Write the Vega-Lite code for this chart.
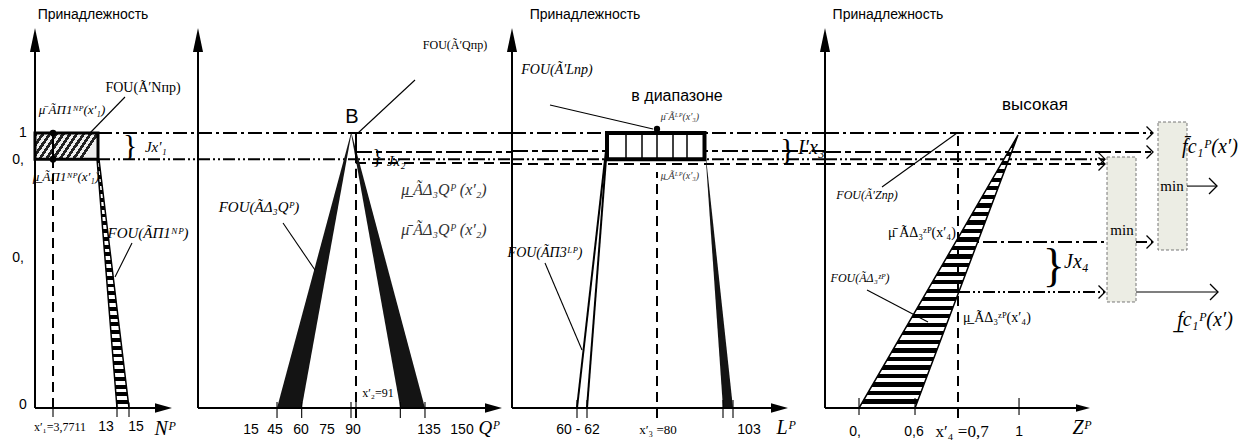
{
"$schema":"https://vega.github.io/schema/vega-lite/v6.json",
"background":"white",
"padding":0,
"spacing":0,
"bounds":"flush",
"config":{"view":{"stroke":null},"concat":{"spacing":0}},
"datasets":{
"p1_axes":[{"x":1.1756,"x2":1.1756,"y":0,"y2":1.3018},{"x":1.1756,"x2":19.2,"y":0,"y2":0},{"x":3.7711,"x2":3.7711,"y":0.905,"y2":1}],
"p1_thin":[{"x":3.7711,"x2":3.7711,"y":0,"y2":-0.033},{"x":13,"x2":13,"y":0.02,"y2":-0.033},{"x":14.73,"x2":14.73,"y":0.02,"y2":-0.033},{"x":14.153,"x2":9.106,"y":1.1309,"y2":1.0},{"x":15.163,"x2":12.711,"y":0.6,"y2":0.4764}],
"p1_up":[{"x":1.1756,"y":1.338}],
"p1_right":[{"x":19.705,"y":0}],
"p1_strip":[{"y":0.905,"x":10.12,"x2":10.4},{"y":0,"x":13,"x2":14.73}],
"p1_box":[{"x":1.1756,"x2":10.26,"y":0.905,"y2":1}],
"p1_dd":[{"x":10.26,"x2":24.679,"y":1,"y2":1}],
"p1_ddd":[{"x":10.26,"x2":24.679,"y":0.905,"y2":0.905}],
"p1_ds":[{"x":3.7711,"x2":3.7711,"y":0,"y2":0.905}],
"p1_dots":[{"x":3.7711,"y":1},{"x":3.7711,"y":0.905}],
"p1_sans":[{"x":9.539,"y":1.429,"t":"Принадлежность"},{"x":-0.555,"y":1,"t":"1"},{"x":-1.276,"y":0.902,"t":"0,"},{"x":-1.276,"y":0.5455,"t":"0,"},{"x":-0.555,"y":0.011,"t":"0"},{"x":11.413,"y":-0.069,"t":"13"},{"x":15.74,"y":-0.069,"t":"15"}],
"p1_small":[{"x":4.78,"y":-0.069,"t":"x′₁=3,7711"}],
"p1_serif":[{"x":16.749,"y":1.1636,"t":"FOU(Ã′Nпр)"}],
"p1_mu":[{"x":6.511,"y":1.0836,"t":"μ̄ ÃП1ᴺᴾ(x′₁)"},{"x":5.646,"y":0.84,"t":"μ̲ ÃП1ᴺᴾ(x′₁)"}],
"p1_it":[{"x":17.47,"y":0.636,"t":"FOU(ÃП1ᴺᴾ)"},{"x":18.6,"y":0.949,"t":"Jx′₁"}],
"p1_big":[{"x":19.92,"y":-0.075,"t":"Nᴾ"}],
"p1_brace":[{"x":14.9,"y":0.9527,"t":"}"}],

"p2_axes":[{"x":-3.066,"x2":-3.066,"y":0,"y2":1.3018},{"x":-3.066,"x2":174.55,"y":0,"y2":0},{"x":93.04,"x2":93.04,"y":0.89,"y2":1}],
"p2_thin":[{"x":45,"x2":45,"y":0.0218,"y2":-0.036},{"x":60,"x2":60,"y":0.0218,"y2":-0.036},{"x":90,"x2":90,"y":0.0218,"y2":-0.036},{"x":93.04,"x2":93.04,"y":0.0218,"y2":-0.036},{"x":120,"x2":120,"y":0.0218,"y2":-0.036},{"x":135,"x2":135,"y":0.0218,"y2":-0.036},{"x":94.26,"x2":128.93,"y":1,"y2":1.1927},{"x":48.64,"x2":68.1,"y":0.6727,"y2":0.5018}],
"p2_up":[{"x":-3.066,"y":1.338}],
"p2_right":[{"x":176.68,"y":0}],
"p2_bands":[{"g":"L","y":0,"x":45,"x2":60},{"g":"L","y":1,"x":90,"x2":90.3},{"g":"R","y":0,"x":120,"x2":135},{"g":"R","y":1,"x":90,"x2":90.3}],
"p2_dd":[{"x":-3.066,"x2":187.93,"y":1,"y2":1}],
"p2_ddd":[{"x":-3.066,"x2":187.93,"y":0.905,"y2":0.905}],
"p2_ld":[{"x":93.04,"x2":187.93,"y":0.931,"y2":0.931}],
"p2_ds":[{"x":93.04,"x2":187.93,"y":0.891,"y2":0.891},{"x":93.04,"x2":93.04,"y":-0.036,"y2":0.87}],
"p2_sans":[{"x":29.17,"y":-0.08,"t":"15"},{"x":43.77,"y":-0.08,"t":"45"},{"x":59.59,"y":-0.08,"t":"60"},{"x":75.4,"y":-0.08,"t":"75"},{"x":91.22,"y":-0.08,"t":"90"},{"x":137.45,"y":-0.08,"t":"135"},{"x":157.52,"y":-0.08,"t":"150"}],
"p2_B":[{"x":90.6,"y":1.058,"t":"B"}],
"p2_small":[{"x":153.26,"y":1.32,"t":"FOU(Ã′Qпр)"},{"x":106.4,"y":0.0545,"t":"x′₂=91"}],
"p2_mu":[{"x":146.57,"y":0.7927,"t":"μ̲ ÃΔ₃Qᴾ (x′₂)"},{"x":146.57,"y":0.647,"t":"μ̄ ÃΔ₃Qᴾ (x′₂)"}],
"p2_it":[{"x":34.04,"y":0.731,"t":"FOU(ÃΔ₃Qᴾ)"},{"x":117.5,"y":0.9,"t":"Jx₂"}],
"p2_big":[{"x":173.94,"y":-0.073,"t":"Qᴾ"}],
"p2_brace":[{"x":106.0,"y":0.9127,"t":"}"}],

"p3_axes":[{"x":43.75,"x2":43.75,"y":0,"y2":1.3018},{"x":43.75,"x2":109.75,"y":0,"y2":0},{"x":60,"x2":67.75,"y":0,"y2":1},{"x":62.5,"x2":67.25,"y":0,"y2":0.905}],
"p3_thin":[{"x":60,"x2":60,"y":0.029,"y2":-0.036},{"x":62.5,"x2":62.5,"y":0.029,"y2":-0.036},{"x":96.5,"x2":96.5,"y":0.029,"y2":-0.036},{"x":99,"x2":99,"y":0.029,"y2":-0.036},{"x":53.25,"x2":79,"y":1.1018,"y2":1.0145},{"x":52,"x2":61.25,"y":0.527,"y2":0.211}],
"p3_up":[{"x":43.75,"y":1.338}],
"p3_right":[{"x":110.625,"y":0}],
"p3_band":[{"y":0,"x":96.5,"x2":99},{"y":0.905,"x":92.2,"x2":92.3}],
"p3_box":[{"x":67.5,"x2":91.875,"y":0.905,"y2":1}],
"p3_grid":[{"x":72.25,"x2":72.25,"y":0.905,"y2":1},{"x":76.25,"x2":76.25,"y":0.905,"y2":1},{"x":80,"x2":80,"y":0.905,"y2":1},{"x":84,"x2":84,"y":0.905,"y2":1},{"x":87.5,"x2":87.5,"y":0.905,"y2":1}],
"p3_dd":[{"x":43.75,"x2":122,"y":1,"y2":1}],
"p3_ld":[{"x":43.75,"x2":122,"y":0.9345,"y2":0.9345}],
"p3_ddd":[{"x":43.75,"x2":122,"y":0.905,"y2":0.905}],
"p3_ds":[{"x":43.75,"x2":122,"y":0.8873,"y2":0.8873},{"x":80,"x2":80,"y":-0.036,"y2":0.858}],
"p3_dot":[{"x":80,"y":1.0145}],
"p3_sans":[{"x":62,"y":1.429,"t":"Принадлежность"},{"x":60.25,"y":-0.08,"t":"60 - 62"},{"x":103,"y":-0.08,"t":"103"}],
"p3_label":[{"x":85,"y":1.1345,"t":"в диапазоне"}],
"p3_small":[{"x":80.25,"y":-0.08,"t":"x′₃ =80"}],
"p3_tiny":[{"x":85.75,"y":1.058,"t":"μ̄ Ãᴸᴾ(x′₃)"},{"x":85.75,"y":0.8436,"t":"μ̲ Ãᴸᴾ(x′₃)"}],
"p3_it":[{"x":55,"y":1.229,"t":"FOU(Ã′Lпр)"},{"x":52,"y":0.5636,"t":"FOU(ÃП3ᴸᴾ)"}],
"p3_big":[{"x":112.25,"y":-0.073,"t":"Lᴾ"},{"x":118.6,"y":0.945,"t":"I′x₃"}],
"p3_brace":[{"x":112.6,"y":0.938,"t":"}"}],

"p4_axes":[{"x":0.2725,"x2":0.2725,"y":0,"y2":1.3018},{"x":0.2725,"x2":1.2287,"y":0,"y2":0}],
"p4_thin":[{"x":0.4,"x2":0.4,"y":0.036,"y2":-0.025},{"x":0.61,"x2":0.61,"y":0.036,"y2":-0.025},{"x":1,"x2":1,"y":0.036,"y2":-0.025},{"x":0.4862,"x2":0.7675,"y":0.8036,"y2":1.0},{"x":0.43,"x2":0.6587,"y":0.429,"y2":0.3127},{"x":1.6298,"x2":1.7424,"y":0.807,"y2":0.807},{"x":1.4386,"x2":1.7461,"y":0.4218,"y2":0.4218}],
"p4_up":[{"x":0.2725,"y":1.338}],
"p4_right":[{"x":1.2399,"y":0}],
"p4_tri":[{"y":0,"x":0.4,"x2":0.61},{"y":0.9927,"x":0.9962,"x2":0.9962}],
"p4_dd":[{"x":0.2725,"x2":1.5024,"y":1,"y2":1},{"x":0.7712,"x2":1.5024,"y":0.6036,"y2":0.6036}],
"p4_ld":[{"x":0.2725,"x2":1.5024,"y":0.931,"y2":0.931}],
"p4_ddd":[{"x":0.2725,"x2":1.3224,"y":0.905,"y2":0.905},{"x":0.7712,"x2":1.3224,"y":0.4218,"y2":0.4218}],
"p4_ds":[{"x":0.2725,"x2":1.3224,"y":0.887,"y2":0.887},{"x":0.7712,"x2":0.7712,"y":-0.036,"y2":0.9927}],
"p4_chev":[{"x":1.5024,"y":1},{"x":1.5024,"y":0.931},{"x":1.3224,"y":0.905},{"x":1.3224,"y":0.887},{"x":1.5024,"y":0.6036},{"x":1.3224,"y":0.4218}],
"p4_chev2":[{"x":1.7424,"y":0.807},{"x":1.7461,"y":0.4218}],
"p4_boxes":[{"x":1.5211,"x2":1.6298,"y":0.5745,"y2":1.04},{"x":1.3299,"x2":1.4386,"y":0.3855,"y2":0.9127}],
"p4_sans":[{"x":0.5087,"y":1.429,"t":"Принадлежность"},{"x":0.385,"y":-0.087,"t":"0,"},{"x":0.6062,"y":-0.087,"t":"0,6"},{"x":1,"y":-0.087,"t":"1"}],
"p4_label":[{"x":1.06,"y":1.1018,"t":"высокая"}],
"p4_x":[{"x":0.7862,"y":-0.087,"t":"x′₄ =0,7"}],
"p4_min":[{"x":1.5736,"y":0.807,"t":"min"},{"x":1.3861,"y":0.647,"t":"min"}],
"p4_mu":[{"x":0.6362,"y":0.636,"t":"μ̄ ÃΔ₃ᶻᴾ(x′₄)"},{"x":0.9174,"y":0.327,"t":"μ̲ ÃΔ₃ᶻᴾ(x′₄)"}],
"p4_it":[{"x":0.43,"y":0.7745,"t":"FOU(Ã′Zпр)"},{"x":0.4037,"y":0.4727,"t":"FOU(ÃΔ₃ᶻᴾ)"}],
"p4_big":[{"x":1.236,"y":-0.073,"t":"Zᴾ"},{"x":1.215,"y":0.531,"t":"Jx₄"},{"x":1.716,"y":0.949,"t":"f̄c₁ᴾ(x′)"},{"x":1.6974,"y":0.32,"t":"f̲c₁ᴾ(x′)"}],
"p4_brace":[{"x":1.13,"y":0.5127,"t":"}"}]
},
"hconcat":[
{"width":198,"height":446,
"encoding":{"x":{"field":"x","type":"quantitative","scale":{"domain":[-3.8713,24.679],"nice":false,"zero":false},"axis":null},"y":{"field":"y","type":"quantitative","scale":{"domain":[-0.13818,1.48364],"nice":false,"zero":false},"axis":null}},
"layer":[
{"data":{"name":"p1_dd"},"mark":{"type":"rule","color":"black","strokeWidth":2,"strokeDash":[14,4,3,4]},"encoding":{"x2":{"field":"x2"},"y2":{"field":"y2"}}},
{"data":{"name":"p1_ddd"},"mark":{"type":"rule","color":"black","strokeWidth":2,"strokeDash":[12,3,2,3,2,3]},"encoding":{"x2":{"field":"x2"},"y2":{"field":"y2"}}},
{"data":{"name":"p1_strip"},"mark":{"type":"area","orient":"horizontal","stroke":"black","strokeWidth":1.5,"fill":{"gradient":"linear","x1":0,"y1":0,"x2":0,"y2":1,"stops":[{"offset":0,"color":"#000"},{"offset":0.015625,"color":"#000"},{"offset":0.015625,"color":"#fff"},{"offset":0.03125,"color":"#fff"},{"offset":0.03125,"color":"#000"},{"offset":0.046875,"color":"#000"},{"offset":0.046875,"color":"#fff"},{"offset":0.0625,"color":"#fff"},{"offset":0.0625,"color":"#000"},{"offset":0.078125,"color":"#000"},{"offset":0.078125,"color":"#fff"},{"offset":0.09375,"color":"#fff"},{"offset":0.09375,"color":"#000"},{"offset":0.109375,"color":"#000"},{"offset":0.109375,"color":"#fff"},{"offset":0.125,"color":"#fff"},{"offset":0.125,"color":"#000"},{"offset":0.140625,"color":"#000"},{"offset":0.140625,"color":"#fff"},{"offset":0.15625,"color":"#fff"},{"offset":0.15625,"color":"#000"},{"offset":0.171875,"color":"#000"},{"offset":0.171875,"color":"#fff"},{"offset":0.1875,"color":"#fff"},{"offset":0.1875,"color":"#000"},{"offset":0.203125,"color":"#000"},{"offset":0.203125,"color":"#fff"},{"offset":0.21875,"color":"#fff"},{"offset":0.21875,"color":"#000"},{"offset":0.234375,"color":"#000"},{"offset":0.234375,"color":"#fff"},{"offset":0.25,"color":"#fff"},{"offset":0.25,"color":"#000"},{"offset":0.265625,"color":"#000"},{"offset":0.265625,"color":"#fff"},{"offset":0.28125,"color":"#fff"},{"offset":0.28125,"color":"#000"},{"offset":0.296875,"color":"#000"},{"offset":0.296875,"color":"#fff"},{"offset":0.3125,"color":"#fff"},{"offset":0.3125,"color":"#000"},{"offset":0.328125,"color":"#000"},{"offset":0.328125,"color":"#fff"},{"offset":0.34375,"color":"#fff"},{"offset":0.34375,"color":"#000"},{"offset":0.359375,"color":"#000"},{"offset":0.359375,"color":"#fff"},{"offset":0.375,"color":"#fff"},{"offset":0.375,"color":"#000"},{"offset":0.390625,"color":"#000"},{"offset":0.390625,"color":"#fff"},{"offset":0.40625,"color":"#fff"},{"offset":0.40625,"color":"#000"},{"offset":0.421875,"color":"#000"},{"offset":0.421875,"color":"#fff"},{"offset":0.4375,"color":"#fff"},{"offset":0.4375,"color":"#000"},{"offset":0.453125,"color":"#000"},{"offset":0.453125,"color":"#fff"},{"offset":0.46875,"color":"#fff"},{"offset":0.46875,"color":"#000"},{"offset":0.484375,"color":"#000"},{"offset":0.484375,"color":"#fff"},{"offset":0.5,"color":"#fff"},{"offset":0.5,"color":"#000"},{"offset":0.515625,"color":"#000"},{"offset":0.515625,"color":"#fff"},{"offset":0.53125,"color":"#fff"},{"offset":0.53125,"color":"#000"},{"offset":0.546875,"color":"#000"},{"offset":0.546875,"color":"#fff"},{"offset":0.5625,"color":"#fff"},{"offset":0.5625,"color":"#000"},{"offset":0.578125,"color":"#000"},{"offset":0.578125,"color":"#fff"},{"offset":0.59375,"color":"#fff"},{"offset":0.59375,"color":"#000"},{"offset":0.609375,"color":"#000"},{"offset":0.609375,"color":"#fff"},{"offset":0.625,"color":"#fff"},{"offset":0.625,"color":"#000"},{"offset":0.640625,"color":"#000"},{"offset":0.640625,"color":"#fff"},{"offset":0.65625,"color":"#fff"},{"offset":0.65625,"color":"#000"},{"offset":0.671875,"color":"#000"},{"offset":0.671875,"color":"#fff"},{"offset":0.6875,"color":"#fff"},{"offset":0.6875,"color":"#000"},{"offset":0.703125,"color":"#000"},{"offset":0.703125,"color":"#fff"},{"offset":0.71875,"color":"#fff"},{"offset":0.71875,"color":"#000"},{"offset":0.734375,"color":"#000"},{"offset":0.734375,"color":"#fff"},{"offset":0.75,"color":"#fff"},{"offset":0.75,"color":"#000"},{"offset":0.765625,"color":"#000"},{"offset":0.765625,"color":"#fff"},{"offset":0.78125,"color":"#fff"},{"offset":0.78125,"color":"#000"},{"offset":0.796875,"color":"#000"},{"offset":0.796875,"color":"#fff"},{"offset":0.8125,"color":"#fff"},{"offset":0.8125,"color":"#000"},{"offset":0.828125,"color":"#000"},{"offset":0.828125,"color":"#fff"},{"offset":0.84375,"color":"#fff"},{"offset":0.84375,"color":"#000"},{"offset":0.859375,"color":"#000"},{"offset":0.859375,"color":"#fff"},{"offset":0.875,"color":"#fff"},{"offset":0.875,"color":"#000"},{"offset":0.890625,"color":"#000"},{"offset":0.890625,"color":"#fff"},{"offset":0.90625,"color":"#fff"},{"offset":0.90625,"color":"#000"},{"offset":0.921875,"color":"#000"},{"offset":0.921875,"color":"#fff"},{"offset":0.9375,"color":"#fff"},{"offset":0.9375,"color":"#000"},{"offset":0.953125,"color":"#000"},{"offset":0.953125,"color":"#fff"},{"offset":0.96875,"color":"#fff"},{"offset":0.96875,"color":"#000"},{"offset":0.984375,"color":"#000"},{"offset":0.984375,"color":"#fff"},{"offset":1,"color":"#fff"}]}},"encoding":{"x2":{"field":"x2"}}},
{"data":{"name":"p1_box"},"mark":{"type":"rect","stroke":"black","strokeWidth":3,"fill":{"gradient":"linear","x1":0,"y1":0,"x2":1,"y2":0.28,"stops":[{"offset":0,"color":"#222"},{"offset":0.05,"color":"#222"},{"offset":0.05,"color":"#eee"},{"offset":0.1,"color":"#eee"},{"offset":0.1,"color":"#222"},{"offset":0.15,"color":"#222"},{"offset":0.15,"color":"#eee"},{"offset":0.2,"color":"#eee"},{"offset":0.2,"color":"#222"},{"offset":0.25,"color":"#222"},{"offset":0.25,"color":"#eee"},{"offset":0.3,"color":"#eee"},{"offset":0.3,"color":"#222"},{"offset":0.35,"color":"#222"},{"offset":0.35,"color":"#eee"},{"offset":0.4,"color":"#eee"},{"offset":0.4,"color":"#222"},{"offset":0.45,"color":"#222"},{"offset":0.45,"color":"#eee"},{"offset":0.5,"color":"#eee"},{"offset":0.5,"color":"#222"},{"offset":0.55,"color":"#222"},{"offset":0.55,"color":"#eee"},{"offset":0.6,"color":"#eee"},{"offset":0.6,"color":"#222"},{"offset":0.65,"color":"#222"},{"offset":0.65,"color":"#eee"},{"offset":0.7,"color":"#eee"},{"offset":0.7,"color":"#222"},{"offset":0.75,"color":"#222"},{"offset":0.75,"color":"#eee"},{"offset":0.8,"color":"#eee"},{"offset":0.8,"color":"#222"},{"offset":0.85,"color":"#222"},{"offset":0.85,"color":"#eee"},{"offset":0.9,"color":"#eee"},{"offset":0.9,"color":"#222"},{"offset":0.95,"color":"#222"},{"offset":0.95,"color":"#eee"},{"offset":1,"color":"#eee"}]}},"encoding":{"x2":{"field":"x2"},"y2":{"field":"y2"}}},
{"data":{"name":"p1_ds"},"mark":{"type":"rule","color":"black","strokeWidth":2,"strokeDash":[10,6]},"encoding":{"x2":{"field":"x2"},"y2":{"field":"y2"}}},
{"data":{"name":"p1_axes"},"mark":{"type":"rule","color":"black","strokeWidth":2},"encoding":{"x2":{"field":"x2"},"y2":{"field":"y2"}}},
{"data":{"name":"p1_thin"},"mark":{"type":"rule","color":"black","strokeWidth":1.1},"encoding":{"x2":{"field":"x2"},"y2":{"field":"y2"}}},
{"data":{"name":"p1_up"},"mark":{"type":"point","shape":"M0,-1L0.42,1L-0.42,1Z","size":576,"filled":true,"color":"black","opacity":1}},
{"data":{"name":"p1_right"},"mark":{"type":"point","shape":"M1,0L-1,-0.55L-1,0.55Z","size":289,"filled":true,"color":"black","opacity":1}},
{"data":{"name":"p1_dots"},"mark":{"type":"point","shape":"circle","size":45,"filled":true,"color":"black","opacity":1}},
{"data":{"name":"p1_sans"},"mark":{"type":"text","font":"Liberation Sans Narrow, Liberation Sans, sans-serif","fontSize":14,"color":"black"},"encoding":{"text":{"field":"t"}}},
{"data":{"name":"p1_small"},"mark":{"type":"text","font":"Liberation Serif, serif","fontSize":12,"color":"black"},"encoding":{"text":{"field":"t"}}},
{"data":{"name":"p1_serif"},"mark":{"type":"text","font":"Liberation Serif, serif","fontSize":14,"color":"black"},"encoding":{"text":{"field":"t"}}},
{"data":{"name":"p1_mu"},"mark":{"type":"text","font":"Liberation Serif, serif","fontStyle":"italic","fontSize":13,"color":"black"},"encoding":{"text":{"field":"t"}}},
{"data":{"name":"p1_it"},"mark":{"type":"text","font":"Liberation Serif, serif","fontStyle":"italic","fontSize":15,"color":"black"},"encoding":{"text":{"field":"t"}}},
{"data":{"name":"p1_big"},"mark":{"type":"text","font":"Liberation Serif, serif","fontStyle":"italic","fontSize":20,"color":"black"},"encoding":{"text":{"field":"t"}}},
{"data":{"name":"p1_brace"},"mark":{"type":"text","font":"Liberation Serif, serif","fontSize":30,"color":"black"},"encoding":{"text":{"field":"t"}}}
]},
{"width":314,"height":446,
"encoding":{"x":{"field":"x","type":"quantitative","scale":{"domain":[-3.066,187.93],"nice":false,"zero":false},"axis":null},"y":{"field":"y","type":"quantitative","scale":{"domain":[-0.13818,1.48364],"nice":false,"zero":false},"axis":null}},
"layer":[
{"data":{"name":"p2_dd"},"mark":{"type":"rule","color":"black","strokeWidth":2,"strokeDash":[14,4,3,4]},"encoding":{"x2":{"field":"x2"},"y2":{"field":"y2"}}},
{"data":{"name":"p2_ddd"},"mark":{"type":"rule","color":"black","strokeWidth":2,"strokeDash":[12,3,2,3,2,3]},"encoding":{"x2":{"field":"x2"},"y2":{"field":"y2"}}},
{"data":{"name":"p2_ld"},"mark":{"type":"rule","color":"black","strokeWidth":2.2,"strokeDash":[16,4,6,4]},"encoding":{"x2":{"field":"x2"},"y2":{"field":"y2"}}},
{"data":{"name":"p2_ds"},"mark":{"type":"rule","color":"black","strokeWidth":2,"strokeDash":[10,6]},"encoding":{"x2":{"field":"x2"},"y2":{"field":"y2"}}},
{"data":{"name":"p2_bands"},"mark":{"type":"area","orient":"horizontal","color":"#141414","opacity":1},"encoding":{"x2":{"field":"x2"},"detail":{"field":"g"}}},
{"data":{"name":"p2_axes"},"mark":{"type":"rule","color":"black","strokeWidth":2},"encoding":{"x2":{"field":"x2"},"y2":{"field":"y2"}}},
{"data":{"name":"p2_thin"},"mark":{"type":"rule","color":"black","strokeWidth":1.1},"encoding":{"x2":{"field":"x2"},"y2":{"field":"y2"}}},
{"data":{"name":"p2_up"},"mark":{"type":"point","shape":"M0,-1L0.42,1L-0.42,1Z","size":576,"filled":true,"color":"black","opacity":1}},
{"data":{"name":"p2_right"},"mark":{"type":"point","shape":"M1,0L-1,-0.55L-1,0.55Z","size":289,"filled":true,"color":"black","opacity":1}},
{"data":{"name":"p2_sans"},"mark":{"type":"text","font":"Liberation Sans Narrow, Liberation Sans, sans-serif","fontSize":14,"color":"black"},"encoding":{"text":{"field":"t"}}},
{"data":{"name":"p2_B"},"mark":{"type":"text","font":"Liberation Sans, sans-serif","fontSize":20,"color":"black"},"encoding":{"text":{"field":"t"}}},
{"data":{"name":"p2_small"},"mark":{"type":"text","font":"Liberation Serif, serif","fontSize":12,"color":"black"},"encoding":{"text":{"field":"t"}}},
{"data":{"name":"p2_mu"},"mark":{"type":"text","font":"Liberation Serif, serif","fontStyle":"italic","fontSize":16,"color":"#333"},"encoding":{"text":{"field":"t"}}},
{"data":{"name":"p2_it"},"mark":{"type":"text","font":"Liberation Serif, serif","fontStyle":"italic","fontSize":15,"color":"black"},"encoding":{"text":{"field":"t"}}},
{"data":{"name":"p2_big"},"mark":{"type":"text","font":"Liberation Serif, serif","fontStyle":"italic","fontSize":19,"color":"black"},"encoding":{"text":{"field":"t"}}},
{"data":{"name":"p2_brace"},"mark":{"type":"text","font":"Liberation Serif, serif","fontSize":20,"color":"black"},"encoding":{"text":{"field":"t"}}}
]},
{"width":313,"height":446,
"encoding":{"x":{"field":"x","type":"quantitative","scale":{"domain":[43.75,122],"nice":false,"zero":false},"axis":null},"y":{"field":"y","type":"quantitative","scale":{"domain":[-0.13818,1.48364],"nice":false,"zero":false},"axis":null}},
"layer":[
{"data":{"name":"p3_dd"},"mark":{"type":"rule","color":"black","strokeWidth":2,"strokeDash":[14,4,3,4]},"encoding":{"x2":{"field":"x2"},"y2":{"field":"y2"}}},
{"data":{"name":"p3_ddd"},"mark":{"type":"rule","color":"black","strokeWidth":2,"strokeDash":[12,3,2,3,2,3]},"encoding":{"x2":{"field":"x2"},"y2":{"field":"y2"}}},
{"data":{"name":"p3_ld"},"mark":{"type":"rule","color":"black","strokeWidth":2.2,"strokeDash":[16,4,6,4]},"encoding":{"x2":{"field":"x2"},"y2":{"field":"y2"}}},
{"data":{"name":"p3_ds"},"mark":{"type":"rule","color":"black","strokeWidth":2,"strokeDash":[10,6]},"encoding":{"x2":{"field":"x2"},"y2":{"field":"y2"}}},
{"data":{"name":"p3_band"},"mark":{"type":"area","orient":"horizontal","color":"#141414","opacity":1},"encoding":{"x2":{"field":"x2"}}},
{"data":{"name":"p3_box"},"mark":{"type":"rect","fill":"white","stroke":"black","strokeWidth":4},"encoding":{"x2":{"field":"x2"},"y2":{"field":"y2"}}},
{"data":{"name":"p3_grid"},"mark":{"type":"rule","color":"black","strokeWidth":1.5},"encoding":{"x2":{"field":"x2"},"y2":{"field":"y2"}}},
{"data":{"name":"p3_axes"},"mark":{"type":"rule","color":"black","strokeWidth":2},"encoding":{"x2":{"field":"x2"},"y2":{"field":"y2"}}},
{"data":{"name":"p3_thin"},"mark":{"type":"rule","color":"black","strokeWidth":1.1},"encoding":{"x2":{"field":"x2"},"y2":{"field":"y2"}}},
{"data":{"name":"p3_up"},"mark":{"type":"point","shape":"M0,-1L0.42,1L-0.42,1Z","size":576,"filled":true,"color":"black","opacity":1}},
{"data":{"name":"p3_right"},"mark":{"type":"point","shape":"M1,0L-1,-0.55L-1,0.55Z","size":289,"filled":true,"color":"black","opacity":1}},
{"data":{"name":"p3_dot"},"mark":{"type":"point","shape":"circle","size":40,"filled":true,"color":"black","opacity":1}},
{"data":{"name":"p3_sans"},"mark":{"type":"text","font":"Liberation Sans Narrow, Liberation Sans, sans-serif","fontSize":14,"color":"black"},"encoding":{"text":{"field":"t"}}},
{"data":{"name":"p3_label"},"mark":{"type":"text","font":"Liberation Sans, sans-serif","fontSize":16,"color":"black"},"encoding":{"text":{"field":"t"}}},
{"data":{"name":"p3_small"},"mark":{"type":"text","font":"Liberation Serif, serif","fontSize":13,"color":"black"},"encoding":{"text":{"field":"t"}}},
{"data":{"name":"p3_tiny"},"mark":{"type":"text","font":"Liberation Serif, serif","fontStyle":"italic","fontSize":10,"color":"#333"},"encoding":{"text":{"field":"t"}}},
{"data":{"name":"p3_it"},"mark":{"type":"text","font":"Liberation Serif, serif","fontStyle":"italic","fontSize":14,"color":"black"},"encoding":{"text":{"field":"t"}}},
{"data":{"name":"p3_big"},"mark":{"type":"text","font":"Liberation Serif, serif","fontStyle":"italic","fontSize":20,"color":"black"},"encoding":{"text":{"field":"t"}}},
{"data":{"name":"p3_brace"},"mark":{"type":"text","font":"Liberation Serif, serif","fontSize":30,"color":"black"},"encoding":{"text":{"field":"t"}}}
]},
{"width":414,"height":446,
"encoding":{"x":{"field":"x","type":"quantitative","scale":{"domain":[0.2725,1.8248],"nice":false,"zero":false},"axis":null},"y":{"field":"y","type":"quantitative","scale":{"domain":[-0.13818,1.48364],"nice":false,"zero":false},"axis":null}},
"layer":[
{"data":{"name":"p4_dd"},"mark":{"type":"rule","color":"black","strokeWidth":2,"strokeDash":[14,4,3,4]},"encoding":{"x2":{"field":"x2"},"y2":{"field":"y2"}}},
{"data":{"name":"p4_ddd"},"mark":{"type":"rule","color":"black","strokeWidth":2,"strokeDash":[12,3,2,3,2,3]},"encoding":{"x2":{"field":"x2"},"y2":{"field":"y2"}}},
{"data":{"name":"p4_ld"},"mark":{"type":"rule","color":"black","strokeWidth":2.2,"strokeDash":[16,4,6,4]},"encoding":{"x2":{"field":"x2"},"y2":{"field":"y2"}}},
{"data":{"name":"p4_tri"},"mark":{"type":"area","orient":"horizontal","stroke":"black","strokeWidth":1.5,"fill":{"gradient":"linear","x1":0,"y1":0,"x2":0,"y2":1,"stops":[{"offset":0,"color":"#000"},{"offset":0.015625,"color":"#000"},{"offset":0.015625,"color":"#fff"},{"offset":0.03125,"color":"#fff"},{"offset":0.03125,"color":"#000"},{"offset":0.046875,"color":"#000"},{"offset":0.046875,"color":"#fff"},{"offset":0.0625,"color":"#fff"},{"offset":0.0625,"color":"#000"},{"offset":0.078125,"color":"#000"},{"offset":0.078125,"color":"#fff"},{"offset":0.09375,"color":"#fff"},{"offset":0.09375,"color":"#000"},{"offset":0.109375,"color":"#000"},{"offset":0.109375,"color":"#fff"},{"offset":0.125,"color":"#fff"},{"offset":0.125,"color":"#000"},{"offset":0.140625,"color":"#000"},{"offset":0.140625,"color":"#fff"},{"offset":0.15625,"color":"#fff"},{"offset":0.15625,"color":"#000"},{"offset":0.171875,"color":"#000"},{"offset":0.171875,"color":"#fff"},{"offset":0.1875,"color":"#fff"},{"offset":0.1875,"color":"#000"},{"offset":0.203125,"color":"#000"},{"offset":0.203125,"color":"#fff"},{"offset":0.21875,"color":"#fff"},{"offset":0.21875,"color":"#000"},{"offset":0.234375,"color":"#000"},{"offset":0.234375,"color":"#fff"},{"offset":0.25,"color":"#fff"},{"offset":0.25,"color":"#000"},{"offset":0.265625,"color":"#000"},{"offset":0.265625,"color":"#fff"},{"offset":0.28125,"color":"#fff"},{"offset":0.28125,"color":"#000"},{"offset":0.296875,"color":"#000"},{"offset":0.296875,"color":"#fff"},{"offset":0.3125,"color":"#fff"},{"offset":0.3125,"color":"#000"},{"offset":0.328125,"color":"#000"},{"offset":0.328125,"color":"#fff"},{"offset":0.34375,"color":"#fff"},{"offset":0.34375,"color":"#000"},{"offset":0.359375,"color":"#000"},{"offset":0.359375,"color":"#fff"},{"offset":0.375,"color":"#fff"},{"offset":0.375,"color":"#000"},{"offset":0.390625,"color":"#000"},{"offset":0.390625,"color":"#fff"},{"offset":0.40625,"color":"#fff"},{"offset":0.40625,"color":"#000"},{"offset":0.421875,"color":"#000"},{"offset":0.421875,"color":"#fff"},{"offset":0.4375,"color":"#fff"},{"offset":0.4375,"color":"#000"},{"offset":0.453125,"color":"#000"},{"offset":0.453125,"color":"#fff"},{"offset":0.46875,"color":"#fff"},{"offset":0.46875,"color":"#000"},{"offset":0.484375,"color":"#000"},{"offset":0.484375,"color":"#fff"},{"offset":0.5,"color":"#fff"},{"offset":0.5,"color":"#000"},{"offset":0.515625,"color":"#000"},{"offset":0.515625,"color":"#fff"},{"offset":0.53125,"color":"#fff"},{"offset":0.53125,"color":"#000"},{"offset":0.546875,"color":"#000"},{"offset":0.546875,"color":"#fff"},{"offset":0.5625,"color":"#fff"},{"offset":0.5625,"color":"#000"},{"offset":0.578125,"color":"#000"},{"offset":0.578125,"color":"#fff"},{"offset":0.59375,"color":"#fff"},{"offset":0.59375,"color":"#000"},{"offset":0.609375,"color":"#000"},{"offset":0.609375,"color":"#fff"},{"offset":0.625,"color":"#fff"},{"offset":0.625,"color":"#000"},{"offset":0.640625,"color":"#000"},{"offset":0.640625,"color":"#fff"},{"offset":0.65625,"color":"#fff"},{"offset":0.65625,"color":"#000"},{"offset":0.671875,"color":"#000"},{"offset":0.671875,"color":"#fff"},{"offset":0.6875,"color":"#fff"},{"offset":0.6875,"color":"#000"},{"offset":0.703125,"color":"#000"},{"offset":0.703125,"color":"#fff"},{"offset":0.71875,"color":"#fff"},{"offset":0.71875,"color":"#000"},{"offset":0.734375,"color":"#000"},{"offset":0.734375,"color":"#fff"},{"offset":0.75,"color":"#fff"},{"offset":0.75,"color":"#000"},{"offset":0.765625,"color":"#000"},{"offset":0.765625,"color":"#fff"},{"offset":0.78125,"color":"#fff"},{"offset":0.78125,"color":"#000"},{"offset":0.796875,"color":"#000"},{"offset":0.796875,"color":"#fff"},{"offset":0.8125,"color":"#fff"},{"offset":0.8125,"color":"#000"},{"offset":0.828125,"color":"#000"},{"offset":0.828125,"color":"#fff"},{"offset":0.84375,"color":"#fff"},{"offset":0.84375,"color":"#000"},{"offset":0.859375,"color":"#000"},{"offset":0.859375,"color":"#fff"},{"offset":0.875,"color":"#fff"},{"offset":0.875,"color":"#000"},{"offset":0.890625,"color":"#000"},{"offset":0.890625,"color":"#fff"},{"offset":0.90625,"color":"#fff"},{"offset":0.90625,"color":"#000"},{"offset":0.921875,"color":"#000"},{"offset":0.921875,"color":"#fff"},{"offset":0.9375,"color":"#fff"},{"offset":0.9375,"color":"#000"},{"offset":0.953125,"color":"#000"},{"offset":0.953125,"color":"#fff"},{"offset":0.96875,"color":"#fff"},{"offset":0.96875,"color":"#000"},{"offset":0.984375,"color":"#000"},{"offset":0.984375,"color":"#fff"},{"offset":1,"color":"#fff"}]}},"encoding":{"x2":{"field":"x2"}}},
{"data":{"name":"p4_ds"},"mark":{"type":"rule","color":"black","strokeWidth":2,"strokeDash":[10,6]},"encoding":{"x2":{"field":"x2"},"y2":{"field":"y2"}}},
{"data":{"name":"p4_boxes"},"mark":{"type":"rect","fill":"#ecede4","stroke":"#777","strokeWidth":1,"strokeDash":[3,2]},"encoding":{"x2":{"field":"x2"},"y2":{"field":"y2"}}},
{"data":{"name":"p4_axes"},"mark":{"type":"rule","color":"black","strokeWidth":2},"encoding":{"x2":{"field":"x2"},"y2":{"field":"y2"}}},
{"data":{"name":"p4_thin"},"mark":{"type":"rule","color":"black","strokeWidth":1.1},"encoding":{"x2":{"field":"x2"},"y2":{"field":"y2"}}},
{"data":{"name":"p4_up"},"mark":{"type":"point","shape":"M0,-1L0.42,1L-0.42,1Z","size":576,"filled":true,"color":"black","opacity":1}},
{"data":{"name":"p4_right"},"mark":{"type":"point","shape":"M1,0L-1,-0.55L-1,0.55Z","size":196,"filled":true,"color":"black","opacity":1}},
{"data":{"name":"p4_chev"},"mark":{"type":"point","shape":"M-1,-1L0,0L-1,1","size":169,"filled":false,"color":"black","strokeWidth":1.3,"opacity":1}},
{"data":{"name":"p4_chev2"},"mark":{"type":"point","shape":"M-1,-1L0,0L-1,1","size":256,"filled":false,"color":"black","strokeWidth":1.3,"opacity":1}},
{"data":{"name":"p4_sans"},"mark":{"type":"text","font":"Liberation Sans Narrow, Liberation Sans, sans-serif","fontSize":14,"color":"black"},"encoding":{"text":{"field":"t"}}},
{"data":{"name":"p4_label"},"mark":{"type":"text","font":"Liberation Sans Narrow, Liberation Sans, sans-serif","fontSize":17,"color":"black"},"encoding":{"text":{"field":"t"}}},
{"data":{"name":"p4_x"},"mark":{"type":"text","font":"Liberation Serif, serif","fontSize":17,"color":"black"},"encoding":{"text":{"field":"t"}}},
{"data":{"name":"p4_min"},"mark":{"type":"text","font":"Liberation Serif, serif","fontSize":15,"color":"black"},"encoding":{"text":{"field":"t"}}},
{"data":{"name":"p4_mu"},"mark":{"type":"text","font":"Liberation Serif, serif","fontSize":14,"color":"black"},"encoding":{"text":{"field":"t"}}},
{"data":{"name":"p4_it"},"mark":{"type":"text","font":"Liberation Serif, serif","fontStyle":"italic","fontSize":12,"color":"black"},"encoding":{"text":{"field":"t"}}},
{"data":{"name":"p4_big"},"mark":{"type":"text","font":"Liberation Serif, serif","fontStyle":"italic","fontSize":20,"color":"black"},"encoding":{"text":{"field":"t"}}},
{"data":{"name":"p4_brace"},"mark":{"type":"text","font":"Liberation Serif, serif","fontSize":46,"color":"black"},"encoding":{"text":{"field":"t"}}}
]}
]
}
